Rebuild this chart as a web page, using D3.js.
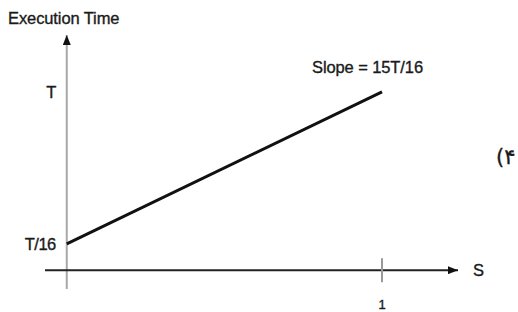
<!DOCTYPE html>
<html>
<head>
<meta charset="utf-8">
<script src="https://cdn.jsdelivr.net/npm/d3@7"></script>
<style>
  body { margin: 0; background: #fff; }
  svg text { font-family: "Liberation Sans", Arial, sans-serif; fill: #1a1a1a; stroke: #1a1a1a; stroke-width: 0.35; }
</style>
</head>
<body>
<svg id="viz"></svg>
<script>
const width = 518;
const height = 312;
const svg = d3.select("#viz").attr("width", width).attr("height", height);

// values, in units of T
const sValues = [0, 1];
const timeValues = [1 / 16, 1];
const yTickValues = [1 / 16, 1];
const yTickLabels = ["T/16", "T"];
const xTickValues = [1];
const xTickLabels = ["1"];
const slopeLabel = "Slope = 15T/16";

const x = d3.scaleLinear().domain([-0.069, 1.241]).range([45, 458]);
const y = d3.scaleLinear().domain([-0.216, 1.351]).range([289, 35]);
const xAxisAt = -0.1;

// arrow heads
const defs = svg.append("defs");
defs.append("marker")
  .attr("id", "arrow")
  .attr("viewBox", "0 0 10 8")
  .attr("refX", 10).attr("refY", 4)
  .attr("markerWidth", 11).attr("markerHeight", 8)
  .attr("markerUnits", "userSpaceOnUse")
  .attr("orient", "auto")
  .append("path")
  .attr("d", "M0,0 L10,4 L0,8 Z")
  .attr("fill", "#111");

// y axis (grey shaft)
svg.append("line")
  .attr("x1", x(0)).attr("x2", x(0))
  .attr("y1", y(-0.216)).attr("y2", y(1.351))
  .attr("stroke", "#a8a8a8").attr("stroke-width", 2)
  .attr("marker-end", "url(#arrow)");

// x axis
svg.append("line")
  .attr("x1", x(-0.069)).attr("x2", x(1.241))
  .attr("y1", y(xAxisAt)).attr("y2", y(xAxisAt))
  .attr("stroke", "#222").attr("stroke-width", 2)
  .attr("marker-end", "url(#arrow)");

// x ticks
svg.selectAll(".xtick").data(xTickValues).enter().append("line")
  .attr("class", "xtick")
  .attr("x1", d => x(d)).attr("x2", d => x(d))
  .attr("y1", y(xAxisAt) - 12).attr("y2", y(xAxisAt) + 12)
  .attr("stroke", "#999").attr("stroke-width", 2);

svg.selectAll(".xlab").data(xTickValues).enter().append("text")
  .attr("class", "xlab")
  .attr("x", d => x(d)).attr("y", 309)
  .attr("text-anchor", "middle")
  .attr("font-size", 13)
  .text((d, i) => xTickLabels[i]);

// y labels
svg.selectAll(".ylab").data(yTickValues).enter().append("text")
  .attr("class", "ylab")
  .attr("x", x(0) - 11).attr("y", d => y(d))
  .attr("dy", "0.36em")
  .attr("text-anchor", "end")
  .attr("font-size", 16.5)
  .attr("letter-spacing", -0.5)
  .text((d, i) => yTickLabels[i]);

// the line
const line = d3.line().x(d => x(d[0])).y(d => y(d[1]));
svg.append("path")
  .datum(sValues.map((s, i) => [s, timeValues[i]]))
  .attr("d", line)
  .attr("fill", "none")
  .attr("stroke", "#111")
  .attr("stroke-width", 3);

// annotations
svg.append("text")
  .attr("x", 8).attr("y", 24)
  .attr("font-size", 16.5)
  .attr("letter-spacing", -0.1)
  .text("Execution Time");

svg.append("text")
  .attr("x", 312).attr("y", 73)
  .attr("font-size", 16.5)
  .attr("letter-spacing", -0.1)
  .text(slopeLabel);

svg.append("text")
  .attr("x", 473).attr("y", y(xAxisAt))
  .attr("dy", "0.36em")
  .attr("font-size", 16.5)
  .text("S");

svg.append("text")
  .attr("x", 496).attr("y", 164)
  .attr("font-size", 21)
  .style("font-family", "'DejaVu Sans', sans-serif")
  .text("(۴");
</script>
</body>
</html>
